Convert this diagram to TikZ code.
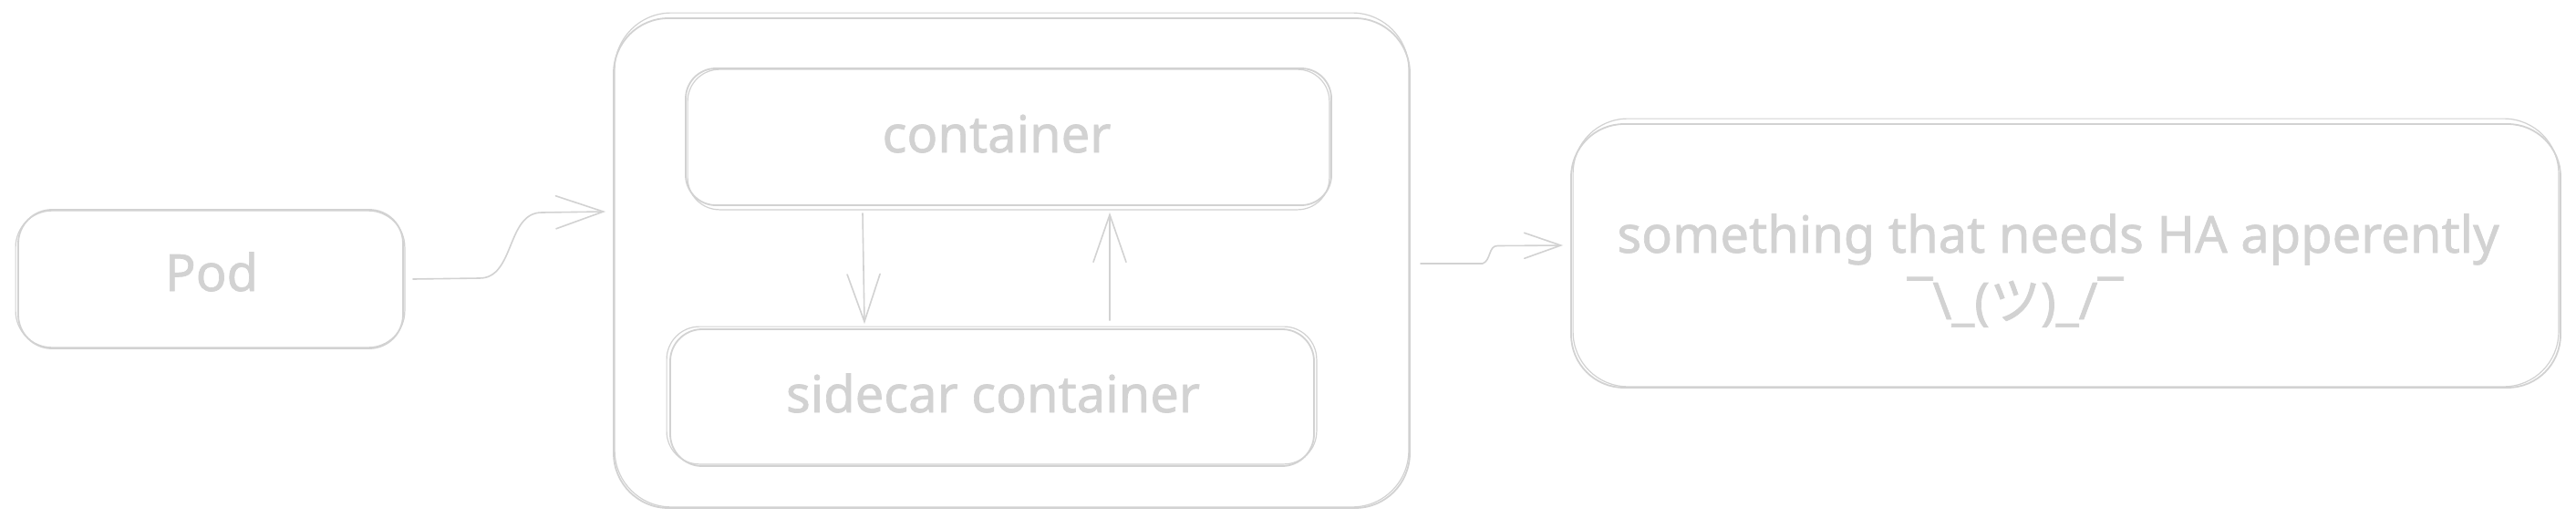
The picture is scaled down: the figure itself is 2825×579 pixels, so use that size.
\documentclass[tikz,border=0pt]{standalone}
\usepackage{fontspec}
\setmainfont{Noto Sans}
\newfontfamily\handfont{Noto Sans}[FakeBold=1.2]
\newfontfamily\cjkfont{Noto Sans CJK JP}[FakeBold=1.2]
\usetikzlibrary{arrows.meta,calc}
\definecolor{sk}{RGB}{210,210,210}
\begin{document}
\begin{tikzpicture}[x=1pt,y=-1pt,line width=1.8pt,
  box/.style={draw=sk, rounded corners=#1, inner sep=0pt},
  rough/.style={draw=sk, line width=1.2pt, rounded corners=#1},
  txt/.style={text=sk, font=\handfont\fontsize{56}{68}\selectfont, anchor=base, inner sep=0pt},
  conn/.style={draw=sk, line width=1.6pt, line cap=round, line join=round},
  bighead/.style={-{Straight Barb[length=52pt,width=36pt,line cap=round]}},
  smallhead/.style={-{Straight Barb[length=40pt,width=28pt,line cap=round]}}]
\path[fill=white] (0,0) rectangle (2825,579);
\useasboundingbox (0,0) rectangle (2825,579);

% boxes
\node[box=37, minimum width=422pt, minimum height=152pt] (pod) at (231,306) {};
\node[box=60, minimum width=873pt, minimum height=537pt] (outer) at (1109.5,288.5) {};
\node[box=33, minimum width=708pt, minimum height=150pt] (cont) at (1106,150) {};
\node[box=35, minimum width=706pt, minimum height=150pt] (side) at (1088,436) {};
\node[box=58, minimum width=1085pt, minimum height=289pt] (far) at (2265.5,280.5) {};

% second, rougher strokes
\draw[rough=40] ($(pod.north west)+(-2,2)$) rectangle ($(pod.south east)+(1,-2)$);
\draw[rough=62] ($(outer.north west)+(2,-5)$) rectangle ($(outer.south east)+(-2,-2)$);
\draw[rough=35] ($(cont.north west)+(3,2)$) rectangle ($(cont.south east)+(-3,4)$);
\draw[rough=36] ($(side.north west)+(-3,-2)$) rectangle ($(side.south east)+(2,-3)$);
\draw[rough=60] ($(far.north west)+(3,-5)$) rectangle ($(far.south east)+(-3,-2)$);

% texts
\node[txt] (podt) at (232,319) {Pod};
\node[txt] (contt) at (1093,167) {container};
\node[txt] (sidet) at (1089,452) {sidecar container};
\node[txt] (fart) at (2257,277) {something that needs HA apperently};
\node[txt] (shrug) at (2210,350) {¯\textbackslash\_({\cjkfont ツ})\_/¯};

% connectors
\draw[conn,bighead] ($(pod.east)+(10,0)$) -- ($(pod.east)+(83,-1)$)
  to[out=0,in=180] ($(outer.west)+(-78,-55.5)$) -- ($(outer.west)+(-8,-56.5)$);
\draw[conn,bighead] ($(cont.south)+(-160,8)$) -- ($(side.north)+(-140,-5)$);
\draw[conn,bighead] ($(side.north)+(129,-9)$) -- ($(cont.south)+(111,7)$);
\draw[conn,smallhead] ($(outer.east)+(11,0.5)$) -- ($(outer.east)+(79,0.5)$)
  to[out=20,in=180] ($(far.west)+(-80,-11)$) -- ($(far.west)+(-8,-11.5)$);
\end{tikzpicture}
\end{document}
